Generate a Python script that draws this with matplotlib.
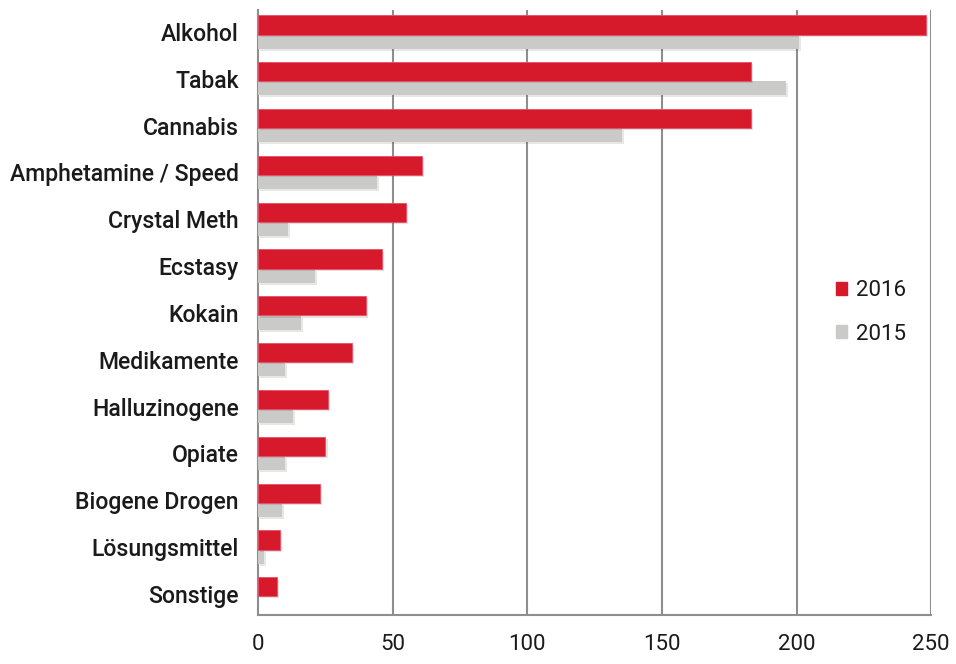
import matplotlib
matplotlib.use("Agg")
import matplotlib.pyplot as plt
import matplotlib.patheffects as pe
from matplotlib.patches import Patch
import numpy as np

# Substanzen, von oben nach unten
categories = ["Alkohol", "Tabak", "Cannabis", "Amphetamine / Speed", "Crystal Meth",
              "Ecstasy", "Kokain", "Medikamente", "Halluzinogene", "Opiate",
              "Biogene Drogen", "Lösungsmittel", "Sonstige"]
values_2016 = [248, 183, 183, 61, 55, 46, 40, 35, 26, 25, 23, 8, 7]
values_2015 = [201, 196, 135, 44, 11, 21, 16, 10, 13, 10, 9, 2, 0]
x_ticks = [0, 50, 100, 150, 200, 250]

red = "#d71a2b"
grey = "#cacac8"
grid_col = "#8e8e8e"
txt_col = "#1a1a1a"

plt.rcParams['font.family'] = ['Roboto', 'DejaVu Sans']

fig = plt.figure(figsize=(9.56, 6.64), dpi=100)
ax = fig.add_axes([0.27, 0.074, 0.704, 0.911])

y = np.arange(len(categories))
h_red = 0.41
h_grey = 0.30
top = -(h_red + h_grey) / 2

shadow = [pe.SimplePatchShadow(offset=(1.5, -1.5), alpha=0.12), pe.Normal()]

ax.barh(y + top + h_red + h_grey / 2, values_2015, height=h_grey, color=grey,
        zorder=3, path_effects=shadow)
ax.barh(y + top + h_red / 2, values_2016, height=h_red, color=red,
        edgecolor="#e8506a", linewidth=0.6, zorder=4, path_effects=shadow)

ax.set_xlim(0, 250)
ax.set_ylim(12.45, -0.47)
ax.set_yticks(y)
ax.set_yticklabels(categories, fontsize=16.6, color=txt_col, fontweight='medium')
ax.set_xticks(x_ticks)
ax.set_xticklabels([str(t) for t in x_ticks], fontsize=16, color=txt_col)
ax.tick_params(length=0)
ax.tick_params(axis='y', pad=14)
ax.tick_params(axis='x', pad=14)

for t in x_ticks[1:]:
    ax.axvline(t, color=grid_col, linewidth=1.5, zorder=1)

for s in ["top", "right"]:
    ax.spines[s].set_visible(False)
for s in ["left", "bottom"]:
    ax.spines[s].set_color(grid_col)
    ax.spines[s].set_linewidth(1.5)

handles = [Patch(color=red), Patch(color=grey)]
leg = ax.legend(handles, ["2016", "2015"], loc="center", bbox_to_anchor=(0.91, 0.5),
                frameon=False, fontsize=16, handlelength=0.5, handleheight=0.5,
                handletextpad=0.4, labelspacing=1.0)
for t in leg.get_texts():
    t.set_color(txt_col)

fig.savefig("out.png", dpi=100)
